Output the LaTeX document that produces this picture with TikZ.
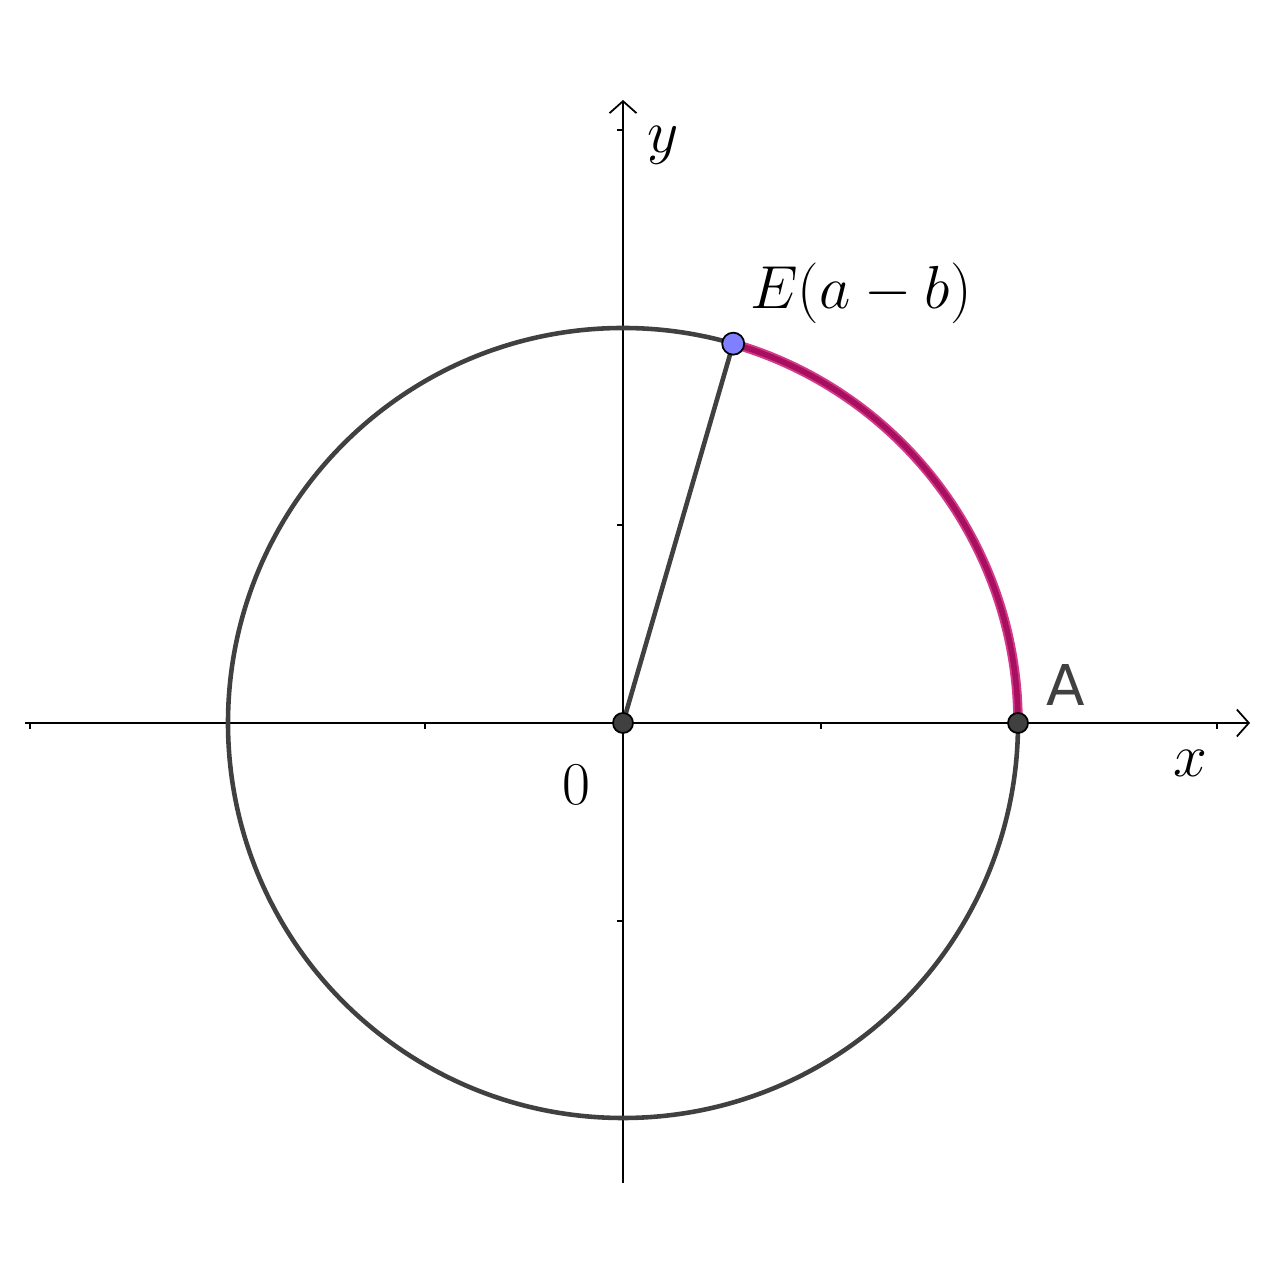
\documentclass[tikz,border=0pt]{standalone}
\usepackage{fontspec}
\newfontfamily\gsans{DejaVu Sans}
\usetikzlibrary{arrows.meta}
\definecolor{cgray}{HTML}{404040}
\definecolor{arcout}{HTML}{D33A8C}
\definecolor{arcin}{HTML}{A8105F}
\definecolor{eblue}{HTML}{7F7FFF}
\begin{document}
\begin{tikzpicture}[x=0.01cm,y=0.01cm,
  axis/.style={line width=0.5pt,black,-{Straight Barb[length=0.12cm,width=0.27cm,line width=0.5pt]}},
  tickmark/.style={line width=0.5pt,black},
  curve/.style={line width=1.3pt,cgray},
  ptdark/.style={circle,fill=cgray,draw=black,line width=0.5pt,minimum size=0.2cm,inner sep=0pt},
  ptblue/.style={circle,fill=eblue,draw=black,line width=0.5pt,minimum size=0.22cm,inner sep=0pt},
  mathlbl/.style={font=\fontsize{19}{23}\selectfont,inner sep=0pt},
  sanslbl/.style={font=\gsans\fontsize{16}{19}\selectfont,text=cgray,inner sep=0pt}]
\useasboundingbox (-623,-557) rectangle (657,723);
\coordinate (xl) at (-598,0);
\coordinate (xr) at (627,0);
\coordinate (yb) at (0,-460);
\coordinate (yt) at (0,623);
\draw[axis] (xl) -- (xr);
\draw[axis] (yb) -- (yt);
\foreach \t in {-593,-198,198,594} \draw[tickmark] (\t,0) -- (\t,-6);
\foreach \t in {-198,198,593} \draw[tickmark] (0,\t) -- (-6,\t);
\coordinate (O) at (0,0);
\draw[curve] (O) circle (395);
\coordinate (Ep) at (73.8:395);
\coordinate (Ap) at (395,0);
\draw[line width=2.7pt,arcout] (Ap) arc (0:73.8:395);
\draw[line width=1.6pt,arcin] (Ap) arc (0:73.8:395);
\draw[curve] (O) -- (Ep);
\node[ptdark] (o) at (O) {};
\node[ptdark] (a) at (Ap) {};
\node[ptblue] (e) at (Ep) {};
\node[mathlbl] (lE) at (238,430) {$E(a-b)$};
\node[sanslbl] (lA) at (443,38) {A};
\node[mathlbl] (l0) at (-47,-62) {$0$};
\node[mathlbl] (lx) at (567,-40) {$x$};
\node[mathlbl] (ly) at (40,578) {$y$};
\end{tikzpicture}
\end{document}
